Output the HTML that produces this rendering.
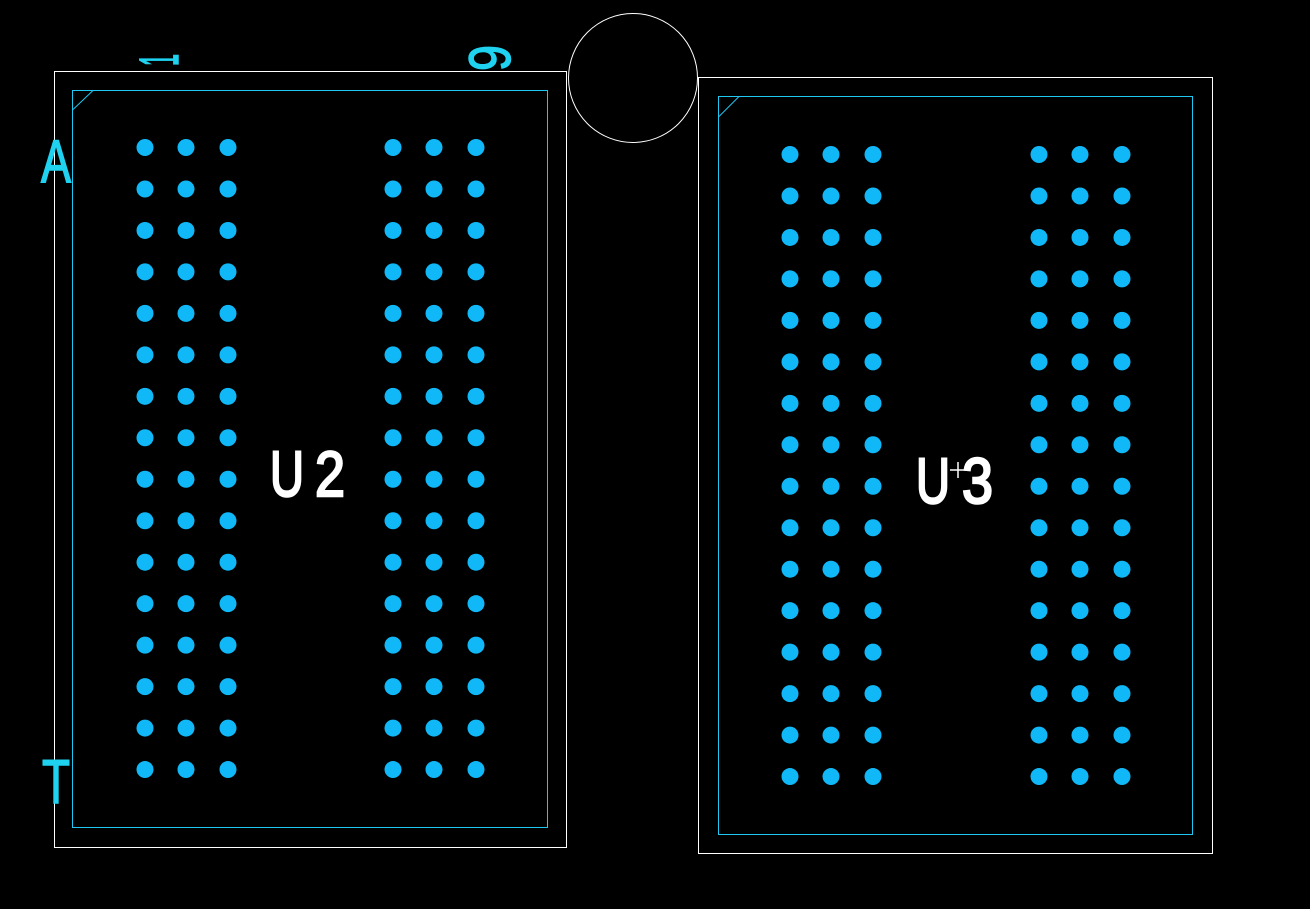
<!DOCTYPE html>
<html><head><meta charset="utf-8"><style>html,body{margin:0;padding:0;background:#000;}svg{display:block}</style></head>
<body>
<svg id="s" width="1310" height="909" xmlns="http://www.w3.org/2000/svg" style="background:#000">
<rect x="54.5" y="71.5" width="512" height="776" fill="none" stroke="#fff" stroke-width="1"/>
<rect x="72.5" y="90.5" width="475" height="737" fill="none" stroke="#1ec8f0" stroke-width="1"/>
<line x1="72.5" y1="110" x2="93" y2="90.5" stroke="#1ec8f0" stroke-width="1"/>
<rect x="698.5" y="77.5" width="514" height="776" fill="none" stroke="#fff" stroke-width="1"/>
<rect x="718.5" y="96.5" width="474" height="738" fill="none" stroke="#1ec8f0" stroke-width="1"/>
<line x1="718.5" y1="117" x2="739" y2="96.5" stroke="#1ec8f0" stroke-width="1"/>
<circle cx="633" cy="78" r="64.5" fill="none" stroke="#fff" stroke-width="1"/>
<g id="dots" fill="#10b8f8"></g>
<g font-family="Liberation Sans, sans-serif" fill="#1ed2f0" stroke="#1ed2f0" stroke-width="1.5">
<text x="56" y="182" font-size="60" text-anchor="middle" textLength="30" lengthAdjust="spacingAndGlyphs">A</text>
<text x="56" y="803" font-size="62" text-anchor="middle" textLength="28" lengthAdjust="spacingAndGlyphs">T</text>
<text transform="translate(178,60) rotate(-90)" font-size="56" text-anchor="middle" textLength="12" lengthAdjust="spacingAndGlyphs">1</text>
<text transform="translate(510,58) rotate(-90)" font-size="58" text-anchor="middle" textLength="26" lengthAdjust="spacingAndGlyphs">9</text>
</g>
<g font-family="Liberation Sans, sans-serif" fill="#fff" stroke="#fff" stroke-width="2.5">
<text x="270" y="496" font-size="64" textLength="34" lengthAdjust="spacingAndGlyphs">U</text>
<text x="315" y="496" font-size="64" textLength="30" lengthAdjust="spacingAndGlyphs">2</text>
<text x="916" y="503" font-size="64" textLength="34" lengthAdjust="spacingAndGlyphs">U</text>
<text x="962" y="503" font-size="64" textLength="31" lengthAdjust="spacingAndGlyphs">3</text>
</g>
<line x1="958" y1="462" x2="958" y2="478" stroke="#fff" stroke-width="1.5"/>
<line x1="950" y1="470" x2="966" y2="470" stroke="#fff" stroke-width="1.5"/>
</svg>
<script>
var g=document.getElementById('dots'),ns='http://www.w3.org/2000/svg';
function grid(xs,y0){for(var r=0;r<16;r++)for(var i=0;i<xs.length;i++){var c=document.createElementNS(ns,'circle');c.setAttribute('cx',xs[i]);c.setAttribute('cy',y0+r*41.47);c.setAttribute('r',8.5);g.appendChild(c);}}
grid([145,186,228,393,434,476],147.5);
grid([790,831,873,1039,1080,1122],154.5);
</script>
</body></html>
